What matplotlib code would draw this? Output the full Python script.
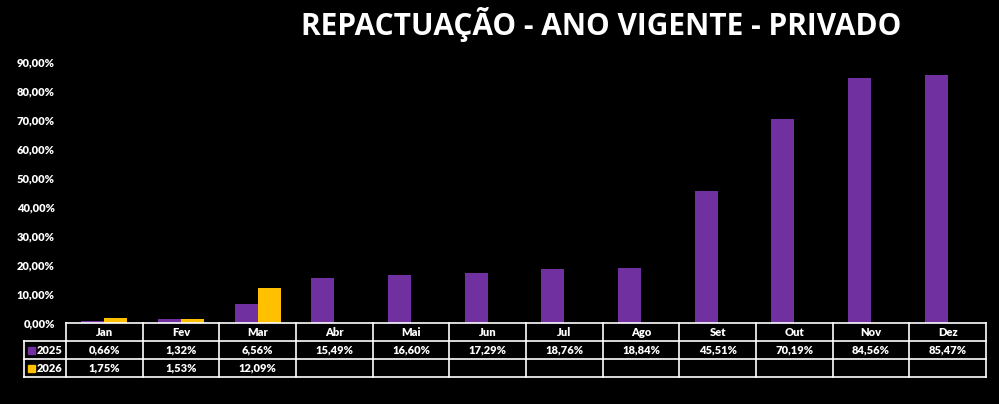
import numpy as np
import matplotlib.pyplot as plt
from matplotlib.transforms import blended_transform_factory

# data
meses = ["Jan", "Fev", "Mar", "Abr", "Mai", "Jun", "Jul", "Ago", "Set", "Out", "Nov", "Dez"]
v2025 = [0.66, 1.32, 6.56, 15.49, 16.60, 17.29, 18.76, 18.84, 45.51, 70.19, 84.56, 85.47]
v2026 = [1.75, 1.53, 12.09]
yticks = [0, 10, 20, 30, 40, 50, 60, 70, 80, 90]

roxo = "#7030A0"
amarelo = "#FFC000"

plt.rcParams['font.family'] = ['Lato', 'DejaVu Sans']

W, H = 999, 404
fig = plt.figure(figsize=(W / 100, H / 100), dpi=100, facecolor="black")
# plot area in pixels: x 66..986, y 62 (90%) .. 323 (0%)
ax = fig.add_axes([66 / W, 1 - 323 / H, (986 - 66) / W, (323 - 62) / H])
ax.set_facecolor("black")

def fmt(v):
    return "{:.2f}%".format(v).replace(".", ",")

x = np.arange(len(meses))
bw = 0.3
ax.bar(x[:len(v2025)] - bw / 2, v2025, width=bw, color=roxo)
ax.bar(x[:len(v2026)] + bw / 2, v2026, width=bw, color=amarelo)

fs = 8
ax.set_xlim(-0.5, len(meses) - 0.5)
ax.set_ylim(0, 90)
ax.set_yticks(yticks)
ax.set_yticklabels([fmt(t) for t in yticks], color="white", fontsize=fs, fontweight="heavy")
ax.set_xticks([])
ax.tick_params(axis="y", length=0, pad=8)
for s in ax.spines.values():
    s.set_visible(False)

# data table under the chart
tr = blended_transform_factory(ax.transData, fig.transFigure)
def fy(py):
    return 1 - py / H

rows_y = [323, 341, 359, 377]
x_left = -0.5
x_leg = x_left - (66 - 24) / ((986 - 66) / len(meses))
x_right = len(meses) - 0.5
lk = dict(color="white", lw=1.2, transform=tr, clip_on=False)

ax.plot([x_left, x_right], [fy(323)] * 2, **lk)
for py in rows_y[1:]:
    ax.plot([x_leg, x_right], [fy(py)] * 2, **lk)
for b in np.arange(len(meses) + 1) - 0.5:
    ax.plot([b, b], [fy(323), fy(377)], **lk)
ax.plot([x_leg, x_leg], [fy(341), fy(377)], **lk)

tk = dict(color="white", fontsize=fs, fontweight="heavy", ha="center", va="center",
          transform=tr, clip_on=False)
for i, m in enumerate(meses):
    ax.text(i, fy(332), m, **tk)
for i, v in enumerate(v2025):
    ax.text(i, fy(350), fmt(v), **tk)
for i, v in enumerate(v2026):
    ax.text(i, fy(368), fmt(v), **tk)

# legend keys inside the table
for py, cor, nome in [(350, roxo, "2025"), (368, amarelo, "2026")]:
    fig.patches.append(plt.Rectangle((28 / W, 1 - (py + 4) / H), 7 / W, 7 / H,
                                     color=cor, transform=fig.transFigure))
    fig.text(37 / W, fy(py), nome, color="white", fontsize=fs, fontweight="heavy",
             ha="left", va="center")

fig.text(0.602, 0.94, "REPACTUAÇÃO - ANO VIGENTE - PRIVADO", color="white",
         fontsize=21.5, fontweight="bold", ha="center", va="center",
         family=["Open Sans", "DejaVu Sans"])

fig.savefig("out.png", dpi=100, facecolor="black")
